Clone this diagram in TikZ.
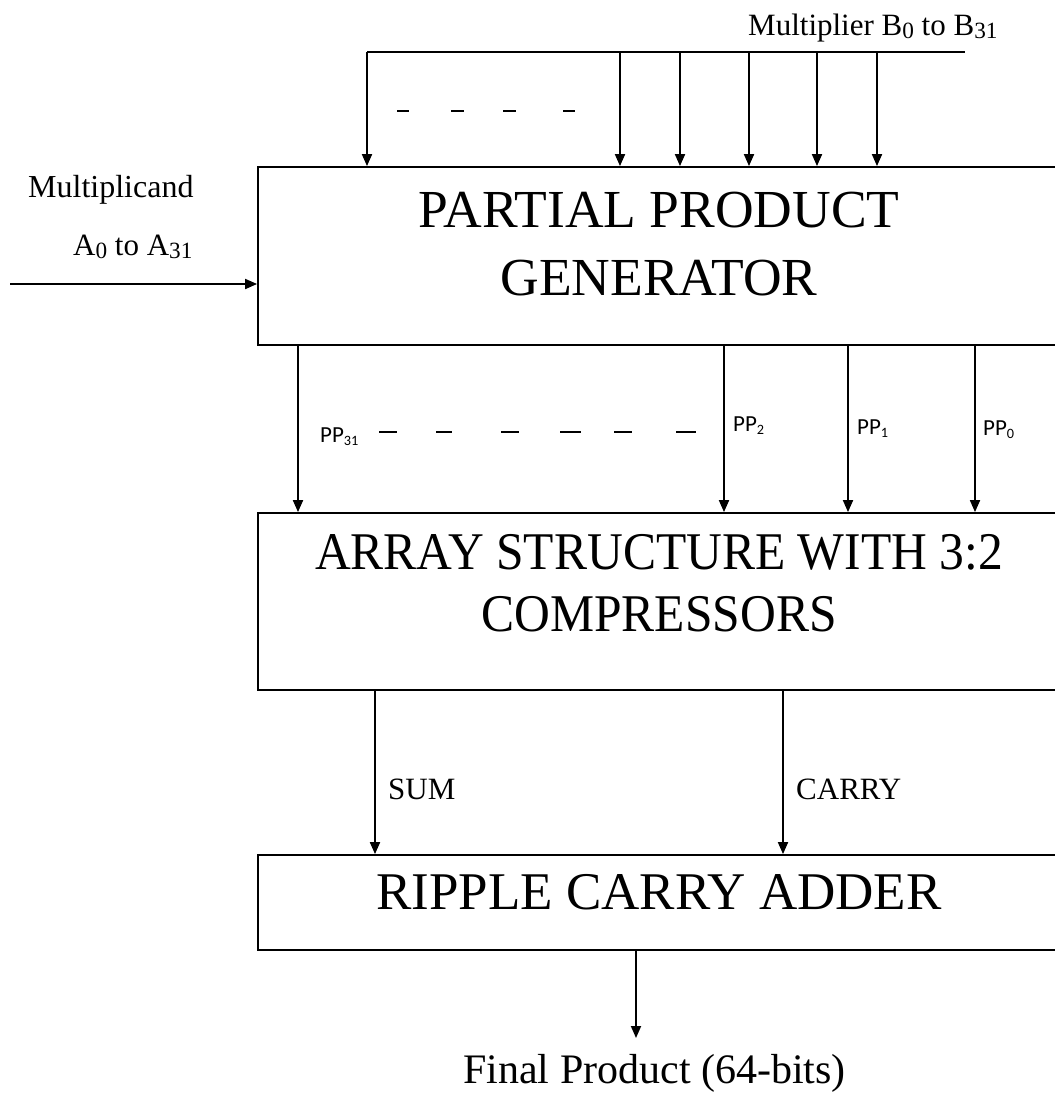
\documentclass[tikz,border=0pt]{standalone}
\usepackage{graphicx}
\usepackage{fontspec}
\setmainfont{Liberation Serif}
\newfontfamily\labelfont{Carlito}
\usetikzlibrary{arrows.meta}

% lowered, reduced index digits (B0, A31, PP2 ...)
\newcommand{\lowidx}[1]{\raisebox{-0.1em}{\scalebox{0.75}{#1}}}
\newcommand{\ppidx}[1]{\raisebox{-0.15em}{\scalebox{0.62}{#1}}}
% slightly condensed block heading
\newcommand{\narrow}[1]{\scalebox{0.935}[1]{#1}}

\begin{document}
\begin{tikzpicture}[x=1pt,y=-1pt,
  block/.style={draw, line width=1.8pt, minimum width=802pt, inner sep=0pt},
  wire/.style={line width=1.8pt},
  feed/.style={wire, -{Triangle[length=12pt,width=10pt]}},
  gapmark/.style={line width=2.6pt},
  title/.style={font=\fontsize{53}{60}\selectfont, anchor=base, inner sep=0pt},
  caption/.style={font=\fontsize{31}{36}\selectfont, anchor=base west, inner sep=0pt},
  pplabel/.style={font=\labelfont\fontsize{23}{27}\selectfont, anchor=base west, inner sep=0pt}]

\useasboundingbox (0,0) rectangle (1055,1093);
\clip (0,0) rectangle (1055,1093);

% ---- blocks ----
\node[block, minimum height=178pt] (ppg) at (659,256) {};
\node[block, minimum height=177pt] (arr) at (659,601.5) {};
\node[block, minimum height=95pt]  (rca) at (659,902.5) {};

\node[title, font=\fontsize{53.5}{60}\selectfont] (ppgA) at (659,227) {PARTIAL PRODUCT};
\node[title, font=\fontsize{53.5}{60}\selectfont] (ppgB) at (659,295) {GENERATOR};
\node[title] (arrA) at (659,569) {\narrow{ARRAY STRUCTURE WITH 3:2}};
\node[title] (arrB) at (659,631) {\narrow{COMPRESSORS}};
\node[title] (rcaA) at (659,909) {RIPPLE CARRY ADDER};

% ---- multiplier bus ----
\node[caption] (mlabel) at (748,35) {Multiplier B\lowidx{0} to B\lowidx{31}};
\coordinate (busL) at (367,52);
\coordinate (busR) at (965,52);
\draw[wire] (busL) -- (busR);
\foreach \x [count=\i] in {367,620,680,749,817,877} {
  \coordinate (b\i) at (\x,52);
  \draw[feed] (b\i) -- (b\i |- ppg.north);
}
\foreach \a/\b in {397/409,451/464,503/516,563/575}
  \draw[gapmark] (\a,111) -- (\b,111);

% ---- multiplicand input ----
\node[caption, font=\fontsize{32}{36}\selectfont] (alabelA) at (28,197) {Multiplicand};
\node[caption, font=\fontsize{31}{36}\selectfont] (alabelB) at (73,255) {A\lowidx{0} to A\lowidx{31}};
\coordinate (ain) at (10,284);
\draw[feed] (ain) -- (ain -| ppg.west);

% ---- partial products ----
\foreach \x/\n in {298/p31,724/p2,848/p1,975/p0} {
  \coordinate (\n) at (\x,345);
  \draw[feed] (\n |- ppg.south) -- (\n |- arr.north);
}
\node[pplabel] (l31) at (320,442) {PP\ppidx{31}};
\node[pplabel] (l2)  at (733,431) {PP\ppidx{2}};
\node[pplabel] (l1)  at (857,434) {PP\ppidx{1}};
\node[pplabel] (l0)  at (983,435) {PP\ppidx{0}};
\foreach \a/\b in {379/397,436/452,501/519,560/581,614/632,676/696}
  \draw[line width=2.2pt] (\a,432) -- (\b,432);

% ---- sum / carry ----
\coordinate (sumx) at (375,690);
\coordinate (carx) at (783,690);
\draw[feed] (sumx |- arr.south) -- (sumx |- rca.north);
\draw[feed] (carx |- arr.south) -- (carx |- rca.north);
\node[caption] (sumlab) at (388,799) {SUM};
\node[caption] (carlab) at (796,799) {CARRY};

% ---- result ----
\coordinate (fout) at (636,1038);
\draw[feed] (fout |- rca.south) -- (fout);
\node[caption, font=\fontsize{42}{48}\selectfont] (final) at (463,1083) {Final Product (64-bits)};
\end{tikzpicture}
\end{document}
